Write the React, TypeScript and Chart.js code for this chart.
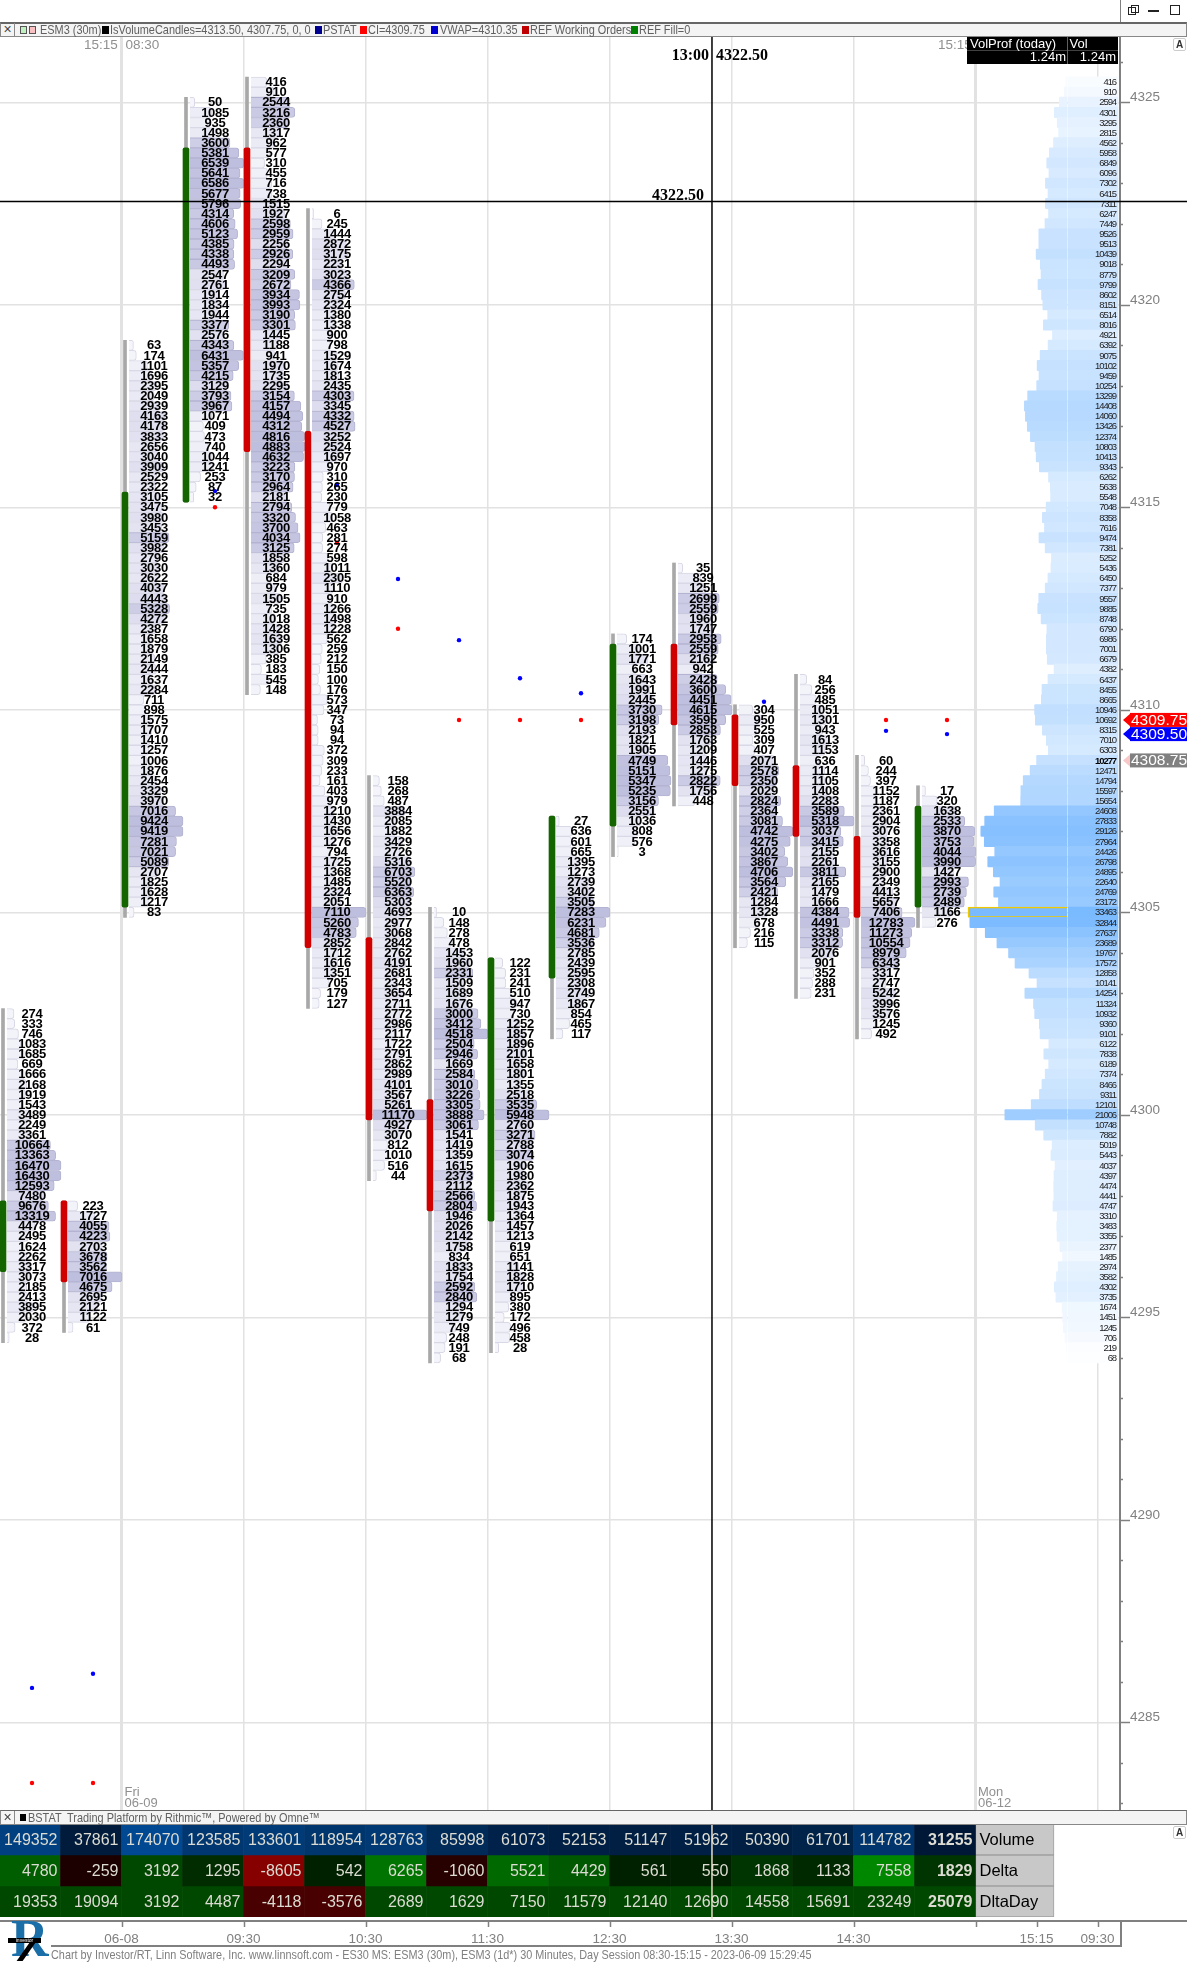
import React, { useEffect, useRef } from "react";
import { Chart, registerables } from "chart.js";

Chart.register(...registerables);

const volumes0 = [274,333,746,1083,1685,669,1666,2168,1919,1543,3489,2249,3361,10664,13363,16470,16430,12593,7480,9676,13319,4478,2495,1624,2262,3317,3073,2185,2413,3895,2030,372,28];
const volumes1 = [223,1727,4055,4223,2703,3678,3562,7016,4675,2695,2121,1122,61];
const volumes2 = [63,174,1101,1696,2395,2049,2939,4163,4178,3833,2656,3040,3909,2529,2322,3105,3475,3980,3453,5159,3982,2796,3030,2622,4037,4443,5328,4272,2387,1658,1879,2149,2444,1637,2284,711,898,1575,1707,1410,1257,1006,1876,2454,3329,3970,7016,9424,9419,7281,7021,5089,2707,1825,1628,1217,83];
const volumes3 = [50,1085,935,1498,3600,5381,6539,5641,6586,5677,5796,4314,4606,5123,4385,4338,4493,2547,2761,1914,1834,1944,3377,2576,4343,6431,5357,4215,3129,3793,3967,1071,409,473,740,1044,1241,253,87,32];
const volumes4 = [416,910,2544,3216,2360,1317,962,577,310,455,716,738,1515,1927,2598,2959,2256,2926,2294,3209,2672,3934,3993,3190,3301,1445,1188,941,1970,1735,2295,3154,4157,4494,4312,4816,4883,4632,3223,3170,2964,2181,2794,3320,3700,4034,3125,1858,1360,684,979,1505,735,1018,1428,1639,1306,385,183,545,148];
const volumes5 = [6,245,1444,2872,3175,2231,3023,4366,2754,2324,1380,1338,900,798,1529,1674,1813,2435,4303,3345,4332,4527,3252,2524,1697,970,310,265,230,779,1058,463,281,274,598,1011,2305,1110,910,1266,1498,1228,562,259,212,150,100,176,573,347,73,94,94,372,309,233,161,403,979,1210,1430,1656,1276,794,1725,1368,1485,2324,2051,7110,5260,4783,2852,1712,1616,1351,705,179,127];
const volumes6 = [158,268,487,3884,2085,1882,3429,2726,5316,6703,5520,6363,5303,4693,2977,3068,2842,2762,4191,2681,2343,3654,2711,2772,2986,2117,1722,2791,2862,2989,4101,3567,5261,11170,4927,3070,812,1010,516,44];
const volumes7 = [10,148,278,478,1453,1960,2331,1509,1689,1676,3000,3412,4518,2504,2946,1669,2584,3010,3226,3305,3888,3061,1541,1419,1359,1615,2373,2112,2566,2804,1946,2026,2142,1758,834,1833,1754,2592,2840,1294,1279,749,248,191,68];
const volumes8 = [122,231,241,510,947,730,1252,1857,1896,2101,1658,1801,1355,2518,3535,5948,2760,3271,2788,3074,1906,1980,2362,1875,1943,1364,1457,1213,619,651,1141,1828,1710,895,380,172,496,458,28];
const volumes9 = [27,636,601,665,1395,1273,2739,3402,3505,7283,6231,4681,3536,2785,2439,2595,2308,2749,1867,854,465,117];
const volumes10 = [174,1001,1771,663,1643,1991,2445,3730,3198,2193,1821,1905,4749,5151,5347,5235,3156,2551,1036,808,576,3];
const volumes11 = [35,839,1251,2699,2559,1960,1747,2953,2559,2162,942,2428,3600,4451,4615,3595,2853,1763,1209,1446,1275,2822,1756,448];
const volumes12 = [304,950,525,309,407,2071,2578,2350,2029,2824,2364,3081,4742,4275,3402,3867,4706,3564,2421,1284,1328,678,216,115];
const volumes13 = [84,256,485,1051,1301,943,1613,1153,636,1114,1105,1408,2283,3589,5318,3037,3415,2155,2261,3811,2165,1479,1666,4384,4491,3338,3312,2076,901,352,288,231];
const volumes14 = [60,244,397,1152,1187,2361,2904,3076,3358,3616,3155,2900,2349,4413,5657,7406,12783,11273,10554,8979,6343,3317,2747,5242,3996,3576,1245,492];
const volumes15 = [17,320,1638,2533,3870,3753,4044,3990,1427,2993,2739,2489,1166,276];
const footprints = [volumes0,volumes1,volumes2,volumes3,volumes4,volumes5,volumes6,volumes7,volumes8,volumes9,volumes10,volumes11,volumes12,volumes13,volumes14,volumes15];

const topPrices = [4302.5,4297.75,4319,4325,4325.5,4322.25,4308.25,4305,4303.75,4307.25,4311.75,4313.5,4310,4310.75,4308.75,4308];
const bodyTops = [4297.875,4297.875,4315.375,4323.875,4323.875,4316.875,4304.375,4300.375,4303.875,4307.375,4311.625,4311.625,4309.875,4308.625,4306.875,4307.625];
const bodyBottoms = [4296.125,4295.875,4305.125,4315.125,4316.375,4304.125,4299.875,4297.625,4297.375,4303.375,4307.125,4309.625,4308.125,4306.875,4304.875,4305.125];
const bodyUp = [true,false,true,true,false,false,false,false,true,true,true,false,false,false,false,true];
const blueDots = [4285.85,4286.2,null,4315.4,null,4315.55,4313.23,4311.72,4310.78,4310.41,null,null,4310.2,null,4309.48,4309.4];
const redDots = [4283.5,4283.5,null,4315,null,4314.125,4312,4309.75,4309.75,4309.75,null,null,null,null,4309.75,4309.75];

const profileTop = 4325.5;
const profileVolumes = [416,910,2594,4301,3295,2815,4562,5958,6849,6096,7302,6415,7311,6247,7449,9526,9513,10439,9018,8779,9799,8602,8151,6514,8016,4921,6392,9075,10102,9459,10254,13299,14408,14060,13426,12374,10803,10413,9343,6262,5638,5548,7048,8358,7616,9474,7381,5252,5436,6450,7377,9557,9885,8748,6790,6986,7001,6679,4382,6437,8455,8665,10946,10692,8315,7010,6303,10277,12471,14794,15597,15654,24608,27833,29126,27964,24426,26798,24895,22640,24769,23172,33463,32844,27637,23689,19767,17572,12858,10141,14254,11324,10932,9360,9101,6122,7838,6189,7374,8466,9311,12101,21006,10748,7882,5019,5443,4037,4397,4474,4441,4747,3310,3483,3355,2377,1485,2974,3582,4302,3735,1674,1451,1245,706,219,68];
const lastPrice = 4308.75;

const metricLabels = ["Volume", "Delta", "DltaDay"];
const volumeRow = [149352,37861,174070,123585,133601,118954,128763,85998,61073,52153,51147,51962,50390,61701,114782,31255];
const deltaRow = [4780,-259,3192,1295,-8605,542,6265,-1060,5521,4429,561,550,1868,1133,7558,1829];
const dltaDayRow = [19353,19094,3192,4487,-4118,-3576,2689,1629,7150,11579,12140,12690,14558,15691,23249,25079];

const axisTimeSlots = [2,4,6,8,10,12,14,16,17,18];
const axisTimeLabels = ["06-08","09:30","10:30","11:30","12:30","13:30","14:30","","15:15","09:30"];

const crossPrice = 4322.55;
const crossPriceLabel = "4322.50";
const crossTimeLabel = "13:00";
const crossSlot = 11.68;
const tagRed = { price: 4309.75, label: "4309.75", bg: "#ff0000", arrow: "#ff0000" };
const tagBlue = { price: 4309.4, label: "4309.50", bg: "#0000ff", arrow: "#0000ff" };
const tagLast = { price: 4308.75, label: "4308.75", bg: "#808080", arrow: "#f8c8c8" };

const SLOT = 61;
const W = 1187;
const AXIS_X = 1120;
const toSlot = (px: number) => (px + 0.5) / SLOT;
const OFF_CANDLE = 3.5 / SLOT;
const OFF_BASE = 7.5 / SLOT;
const OFF_LABEL = 32.5 / SLOT;
const BAR_MAX = 54 / SLOT;
const X_MIN = toSlot(0);
const X_MAX = toSlot(AXIS_X);
const PX_PER_POINT = 40.5;
const Y_MAX = 4325 + (102.3 - 37) / PX_PER_POINT;
const Y_MIN = 4325 - (1810 - 102.3) / PX_PER_POINT;
const TICK = 0.25;
const DARK_FROM = 0.48;

const lerp = (a: number, b: number, t: number) => Math.round(a + (b - a) * t);
const fpColor = (t: number) => {
  if (t < DARK_FROM) {
    const p = t / DARK_FROM;
    return `rgb(${lerp(245, 221, p)},${lerp(245, 221, p)},${lerp(251, 239, p)})`;
  }
  const p = (t - DARK_FROM) / (1 - DARK_FROM);
  return `rgb(${lerp(208, 190, p)},${lerp(208, 190, p)},${lerp(232, 222, p)})`;
};
const profColor = (t: number) => {
  const p = Math.pow(t, 0.7);
  return `rgb(${lerp(255, 122, p)},${lerp(255, 186, p)},255)`;
};

const mainPlugin = {
  id: "footprintText",
  afterDatasetsDraw(chart: any) {
    const { ctx, scales } = chart;
    const x = scales.x;
    const y = scales.y;
    ctx.save();
    ctx.textBaseline = "middle";
    ctx.textAlign = "center";
    ctx.fillStyle = "#000";
    ctx.font = 'bold 13px "Liberation Sans"';
    (ctx as any).letterSpacing = "-0.3px";
    footprints.forEach((col, k) => {
      const px = x.getPixelForValue(k + OFF_LABEL);
      col.forEach((v, i) => {
        ctx.fillText(String(v), px, y.getPixelForValue(topPrices[k] - i * TICK) + 0.5);
      });
    });
    ctx.textAlign = "right";
    (ctx as any).letterSpacing = "-1.1px";
    const profX = x.getPixelForValue(toSlot(1116));
    profileVolumes.forEach((v, i) => {
      const p = profileTop - i * TICK;
      ctx.font = (p === lastPrice ? "bold " : "") + '9.5px "Liberation Sans"';
      ctx.fillStyle = p === lastPrice ? "#000" : "#222";
      ctx.fillText(String(v), profX, y.getPixelForValue(p) + 0.5);
    });
    (ctx as any).letterSpacing = "0px";

    ctx.strokeStyle = "#808080";
    ctx.lineWidth = 1.5;
    y.ticks.forEach((t: any) => {
      const py = Math.round(y.getPixelForValue(t.value)) + 0.5;
      ctx.beginPath();
      ctx.moveTo(AXIS_X, py);
      ctx.lineTo(AXIS_X + (t.value % 5 === 0 ? 10 : 3), py);
      ctx.stroke();
    });

    const crossY = y.getPixelForValue(crossPrice);
    const crossX = x.getPixelForValue(crossSlot);
    ctx.strokeStyle = "#000";
    ctx.lineWidth = 1.5;
    ctx.beginPath();
    ctx.moveTo(0, crossY);
    ctx.lineTo(W, crossY);
    ctx.moveTo(crossX, 0);
    ctx.lineTo(crossX, chart.chartArea.bottom);
    ctx.stroke();

    ctx.fillStyle = "#000";
    ctx.font = 'bold 16px "Liberation Serif"';
    ctx.textAlign = "right";
    ctx.fillText(crossPriceLabel, crossX - 8, crossY - 6);
    ctx.fillText(crossTimeLabel, crossX - 3, 19);
    ctx.textAlign = "left";
    ctx.fillText(crossPriceLabel, crossX + 4, 19);

    [tagRed, tagBlue, tagLast].forEach((tag) => {
      const py = y.getPixelForValue(tag.price);
      const left = AXIS_X + 10;
      ctx.fillStyle = tag.arrow;
      ctx.beginPath();
      ctx.moveTo(AXIS_X + 3, py);
      ctx.lineTo(left + 1, py - 7);
      ctx.lineTo(left + 1, py + 7);
      ctx.closePath();
      ctx.fill();
      ctx.fillStyle = tag.bg;
      ctx.fillRect(left, py - 7, W - left, 14);
      ctx.fillStyle = "#fff";
      ctx.font = '15.5px "Liberation Sans"';
      ctx.textAlign = "left";
      ctx.fillText(tag.label, left + 1, py + 0.5);
    });
    ctx.restore();
  },
};

const tablePlugin = {
  id: "tableText",
  afterDatasetsDraw(chart: any) {
    const { ctx, scales } = chart;
    const x = scales.x;
    const y = scales.y;
    ctx.save();
    ctx.textBaseline = "middle";
    [volumeRow, deltaRow, dltaDayRow].forEach((row, r) => {
      const py = y.getPixelForValue(r);
      row.forEach((v, k) => {
        ctx.textAlign = "right";
        ctx.fillStyle = "#dcdcd2";
        ctx.font = (k === 15 ? "bold " : "") + '16px "Liberation Sans"';
        ctx.fillText(String(v), x.getPixelForValue(k + 1) - 3, py + 1);
      });
      ctx.textAlign = "left";
      ctx.fillStyle = "#000";
      ctx.font = '16.5px "Liberation Sans"';
      ctx.fillText(metricLabels[r], x.getPixelForValue(16) + 4, py + 1);
    });
    const crossX = x.getPixelForValue(crossSlot);
    ctx.strokeStyle = "#e8dcc8";
    ctx.lineWidth = 1.5;
    ctx.beginPath();
    ctx.moveTo(crossX, 0);
    ctx.lineTo(crossX, chart.chartArea.bottom + 2);
    ctx.stroke();
    ctx.strokeStyle = "#808080";
    ctx.lineWidth = 1.5;
    axisTimeSlots.forEach((s) => {
      const px = x.getPixelForValue(s) + 1;
      ctx.beginPath();
      ctx.moveTo(px, chart.chartArea.bottom + 4);
      ctx.lineTo(px, chart.chartArea.bottom + 10);
      ctx.stroke();
    });
    ctx.restore();
  },
};

const barCommon = { type: "bar", grouped: false, borderSkipped: false };

function buildMainDatasets() {
  const ds: any[] = [];
  footprints.forEach((col, k) => {
    const max = Math.max(...col);
    ds.push({
      ...barCommon,
      indexAxis: "y",
      order: 5,
      barThickness: 10.1,
      borderWidth: 1,
      borderSkipped: "left",
      borderRadius: 3,
      borderColor: col.map((v) => (v / max >= DARK_FROM ? "#b4b4d2" : "#d8d8e6")),
      backgroundColor: col.map((v) => fpColor(v / max)),
      data: col.map((v, i) => ({
        x: [k + OFF_BASE, k + OFF_BASE + Math.sqrt(v / max) * BAR_MAX],
        y: topPrices[k] - i * TICK,
      })),
    });
    ds.push({
      ...barCommon,
      order: 4,
      barThickness: 3,
      backgroundColor: "#a8a8a8",
      data: [{ x: k + OFF_CANDLE, y: [topPrices[k] - (col.length - 1) * TICK - TICK / 2, topPrices[k] + TICK / 2] }],
    });
    ds.push({
      ...barCommon,
      order: 3,
      barThickness: 6,
      borderRadius: 2,
      backgroundColor: bodyUp[k] ? "#146400" : "#d00000",
      data: [{ x: k + OFF_CANDLE, y: [bodyBottoms[k], bodyTops[k]] }],
    });
  });
  const profMax = Math.max(...profileVolumes);
  ds.push({
    ...barCommon,
    indexAxis: "y",
    order: 6,
    barThickness: 10.4,
    borderSkipped: "right",
    borderRadius: 1,
    borderColor: profileVolumes.map((v) => (v === profMax ? "#f0c800" : "rgba(0,0,0,0)")),
    borderWidth: profileVolumes.map((v) => (v === profMax ? 1.5 : 0)),
    backgroundColor: profileVolumes.map((v) => profColor(v / profMax)),
    data: profileVolumes.map((v, i) => ({
      x: [toSlot(1067 - (v / profMax) * 99), toSlot(1067)],
      y: profileTop - i * TICK,
    })),
  });
  ds.push({
    ...barCommon,
    indexAxis: "y",
    order: 6,
    barThickness: 10.4,
    backgroundColor: profileVolumes.map((v) => profColor(v / profMax)),
    data: profileVolumes.map((v, i) => ({
      x: [toSlot(1068), toSlot(1118)],
      y: profileTop - i * TICK,
    })),
  });
  const dots = (arr: (number | null)[], color: string) => ({
    type: "scatter",
    order: 1,
    pointRadius: 2.2,
    pointBorderWidth: 0,
    pointBackgroundColor: color,
    showLine: false,
    data: arr
      .map((p, k) => (p === null ? null : { x: k + OFF_LABEL, y: p }))
      .filter((d) => d !== null),
  });
  ds.push(dots(blueDots, "#0000ff"));
  ds.push(dots(redDots, "#ff0000"));
  return ds;
}

const cellVolume = (v: number) => {
  const t = v / Math.max(...volumeRow);
  return `rgb(0,${lerp(14, 72, t)},${lerp(35, 145, t)})`;
};
const cellDelta = (v: number) => {
  const t = Math.min(1, Math.abs(v) / 8605);
  return v >= 0 ? `rgb(0,${lerp(25, 150, t)},0)` : `rgb(${lerp(25, 135, t)},0,0)`;
};
const cellDay = (v: number) => (v >= 0 ? "rgb(0,72,0)" : "rgb(72,0,0)");

function buildTableDatasets() {
  const rows = [volumeRow, deltaRow, dltaDayRow];
  const colors = [cellVolume, cellDelta, cellDay];
  const ds: any[] = rows.map((row, r) => ({
    type: "bar",
    grouped: false,
    barPercentage: 1,
    categoryPercentage: 1,
    borderWidth: 0,
    backgroundColor: row.map((v) => colors[r](v)),
    data: row.map((_, k) => ({ x: [k, k + 1], y: metricLabels[r] })),
  }));
  ds.push({
    type: "bar",
    grouped: false,
    barPercentage: 1,
    categoryPercentage: 1,
    borderWidth: 1,
    borderColor: "#a0a0a0",
    borderSkipped: false,
    backgroundColor: "#c8c8c8",
    data: metricLabels.map((m) => ({ x: [16, toSlot(1054)], y: m })),
  });
  return ds;
}

function MainChart() {
  const ref = useRef<HTMLCanvasElement>(null);
  useEffect(() => {
    const chart = new Chart(ref.current as any, {
      type: "scatter",
      data: { datasets: buildMainDatasets() },
      plugins: [mainPlugin],
      options: {
        responsive: false,
        animation: false,
        devicePixelRatio: 1,
        events: [],
        layout: { autoPadding: false, padding: 0 },
        plugins: { legend: { display: false }, tooltip: { enabled: false } },
        scales: {
          x: {
            type: "linear",
            position: "bottom",
            min: X_MIN,
            max: X_MAX,
            offset: false,
            beginAtZero: false,
            afterBuildTicks: (s: any) => {
              s.ticks = [2, 4, 6, 8, 10, 12, 14, 16, 18].map((value) => ({ value }));
            },
            afterFit: (s: any) => {
              s.height = 0;
              s.paddingLeft = 0;
              s.paddingRight = 0;
            },
            ticks: { display: false, autoSkip: false },
            border: { display: false },
            grid: {
              offset: false,
              drawTicks: false,
              color: "#e2e2e2",
              lineWidth: (c: any) => (c.tick && (c.tick.value === 2 || c.tick.value === 16) ? 3 : 1.5),
            },
          },
          y: {
            type: "linear",
            position: "right",
            min: Y_MIN,
            max: Y_MAX,
            offset: false,
            beginAtZero: false,
            afterBuildTicks: (s: any) => {
              const t: any[] = [];
              for (let v = 4283; v <= 4326; v++) t.push({ value: v });
              s.ticks = t;
            },
            afterFit: (s: any) => {
              s.width = W - AXIS_X;
              s.paddingTop = 0;
              s.paddingBottom = 0;
            },
            border: { display: true, color: "#808080", width: 2 },
            grid: {
              offset: false,
              tickLength: 10,
              tickColor: "rgba(0,0,0,0)",
              color: (c: any) => (c.tick && c.tick.value % 5 === 0 ? "#e2e2e2" : "rgba(0,0,0,0)"),
              lineWidth: (c: any) => (c.tick && c.tick.value % 5 === 0 ? 1.5 : 0),
            },
            ticks: {
              autoSkip: false,
              padding: 0,
              labelOffset: -5,
              color: "#808080",
              font: { family: "Liberation Sans", size: 13.5 },
              callback: (v: any) => (v % 5 === 0 ? String(v) : ""),
            },
          },
        },
      } as any,
    } as any);
    return () => chart.destroy();
  }, []);
  return (
    <canvas
      ref={ref}
      width={W}
      height={1773}
      style={{ position: "absolute", left: 0, top: 37, width: W, height: 1773 }}
    />
  );
}

function TableChart() {
  const ref = useRef<HTMLCanvasElement>(null);
  useEffect(() => {
    const chart = new Chart(ref.current as any, {
      type: "bar",
      data: { labels: metricLabels, datasets: buildTableDatasets() },
      plugins: [tablePlugin],
      options: {
        indexAxis: "y",
        responsive: false,
        animation: false,
        devicePixelRatio: 1,
        events: [],
        layout: { autoPadding: false, padding: { right: W - AXIS_X, left: 0, top: 0, bottom: 0 } },
        plugins: { legend: { display: false }, tooltip: { enabled: false } },
        scales: {
          y: { type: "category", display: false, offset: true, labels: metricLabels },
          x: {
            type: "linear",
            position: "bottom",
            min: X_MIN,
            max: X_MAX,
            beginAtZero: false,
            afterBuildTicks: (s: any) => {
              s.ticks = axisTimeSlots.map((value) => ({ value }));
            },
            afterFit: (s: any) => {
              s.height = 29;
            },
            border: { display: false },
            grid: { drawOnChartArea: false, tickLength: 14, tickColor: "rgba(0,0,0,0)" },
            ticks: {
              autoSkip: false,
              maxRotation: 0,
              padding: 0,
              color: "#808080",
              font: { family: "Liberation Sans", size: 13.5 },
              callback: (v: any) => {
                const i = axisTimeSlots.indexOf(v);
                return i >= 0 ? axisTimeLabels[i] : "";
              },
            },
          },
        },
      } as any,
    } as any);
    return () => chart.destroy();
  }, []);
  return (
    <canvas
      ref={ref}
      width={W}
      height={122}
      style={{ position: "absolute", left: 0, top: 1824, width: W, height: 122 }}
    />
  );
}

const sans = '"Liberation Sans"';

function T(p: { x: number; y: number; s?: number; c?: string; b?: boolean; r?: boolean; z?: number; sx?: number; children: React.ReactNode }) {
  const lh = 16;
  const style: React.CSSProperties = {
    position: "absolute",
    top: p.y - lh / 2,
    lineHeight: `${lh}px`,
    fontFamily: sans,
    fontSize: p.s ?? 13,
    color: p.c ?? "#606060",
    fontWeight: p.b ? 700 : 400,
    whiteSpace: "nowrap",
    zIndex: p.z ?? 3,
  };
  if (p.sx) {
    style.transform = `scaleX(${p.sx})`;
    style.transformOrigin = "left center";
  }
  if (p.r) style.right = W - p.x;
  else style.left = p.x;
  return <div style={style}>{p.children}</div>;
}

function Box(p: { x: number; y: number; w: number; h: number; c?: string; b?: string; z?: number; style?: React.CSSProperties }) {
  return (
    <div
      style={{
        position: "absolute",
        left: p.x,
        top: p.y,
        width: p.w,
        height: p.h,
        boxSizing: "border-box",
        background: p.c,
        border: p.b,
        zIndex: p.z ?? 2,
        ...p.style,
      }}
    />
  );
}

const titleSquares: [number, string][] = [
  [102, "#000000"],
  [315, "#000090"],
  [360, "#ff0000"],
  [431, "#0000d0"],
  [522, "#c00000"],
  [631, "#008000"],
];
const titleTexts: [number, string][] = [
  [40, "ESM3 (30m)"],
  [110, "IsVolumeCandles=4313.50, 4307.75, 0, 0"],
  [323, "PSTAT"],
  [368, "CI=4309.75"],
  [440, "VWAP=4310.35"],
  [530, "REF Working Orders"],
  [639, "REF Fill=0"],
];

function CloseBox({ y }: { y: number }) {
  return (
    <div
      style={{
        position: "absolute",
        left: 1,
        top: y,
        width: 14,
        height: 14,
        zIndex: 3,
        borderRight: "1px solid #888",
        boxSizing: "border-box",
        color: "#444",
        fontFamily: sans,
        fontSize: 14,
        lineHeight: "13px",
        textAlign: "center",
      }}
    >
      ×
    </div>
  );
}

export default function App() {
  return (
    <div
      style={{
        position: "absolute",
        left: 0,
        top: 0,
        width: W,
        height: 1962,
        overflow: "hidden",
        background: "#fff",
      }}
    >
      <MainChart />
      <TableChart />

      {/* window controls */}
      <Box x={AXIS_X} y={0} w={1} h={22} c="#808080" />
      <Box x={1128} y={7} w={8} h={8} b="1.5px solid #222" />
      <Box x={1131} y={5} w={8} h={8} b="1.5px solid #222" z={1} />
      <Box x={1148} y={10} w={11} h={1.5} c="#222" />
      <Box x={1170} y={5} w={10} h={10} b="1.5px solid #222" />

      {/* title strip */}
      <Box x={0} y={22} w={W} h={15} c="#f4f4f4" b="1px solid #888" style={{ borderTop: "2px solid #666" }} />
      <CloseBox y={23} />
      <Box x={20} y={26} w={7} h={8} c="#c0f0c0" b="1px solid #555" z={3} />
      <Box x={29} y={26} w={7} h={8} c="#f8c0c0" b="1px solid #555" z={3} />
      {titleSquares.map(([x, c]) => (
        <Box key={x} x={x} y={26} w={7} h={8} c={c} z={3} />
      ))}
      {titleTexts.map(([x, t]) => (
        <T key={x} x={x} y={30} s={13} sx={0.84}>
          {t}
        </T>
      ))}

      {/* main chart labels */}
      <T x={84} y={44.5} s={13.5} c="#909090">15:15</T>
      <T x={125.5} y={44.5} s={13.5} c="#909090">08:30</T>
      <T x={938} y={44.5} s={13.5} c="#909090" z={2}>15:15</T>
      <T x={124.5} y={1792} s={13} c="#909090">Fri</T>
      <T x={124.5} y={1803} s={13} c="#909090">06-09</T>
      <T x={978} y={1792} s={13} c="#909090">Mon</T>
      <T x={978} y={1803} s={13} c="#909090">06-12</T>

      {/* VolProf header */}
      <Box x={967} y={37} w={151} h={26.5} c="#000" z={3} />
      <Box x={967} y={50} w={151} h={1} c="#404040" z={4} />
      <Box x={1067} y={37} w={1} h={26.5} c="#606060" z={4} />
      <T x={970} y={44} s={13} c="#fff" z={5}>VolProf (today)</T>
      <T x={1069.5} y={44} s={13} c="#fff" z={5}>Vol</T>
      <T x={1066} y={57} s={13} c="#fff" r z={5}>1.24m</T>
      <T x={1116} y={57} s={13} c="#fff" r z={5}>1.24m</T>

      {/* A buttons */}
      <div style={{ position: "absolute", left: 1173, top: 38, width: 13, height: 13, border: "1px solid #ccc", borderRadius: 2, boxSizing: "border-box", fontFamily: sans, fontSize: 10, fontWeight: 700, textAlign: "center", lineHeight: "11px", color: "#333", zIndex: 3 }}>A</div>
      <div style={{ position: "absolute", left: 1173, top: 1826, width: 13, height: 13, border: "1px solid #ccc", borderRadius: 2, boxSizing: "border-box", fontFamily: sans, fontSize: 10, fontWeight: 700, textAlign: "center", lineHeight: "11px", color: "#333", zIndex: 3 }}>A</div>

      {/* BSTAT strip */}
      <Box x={0} y={1810} w={W} h={14.5} c="#f4f4f4" b="1px solid #888" style={{ borderTop: "1.5px solid #666" }} />
      <CloseBox y={1811} />
      <Box x={20} y={1814} w={6} h={7} c="#000" z={3} />
      <T x={28} y={1818} s={13} sx={0.84}>BSTAT</T>
      <T x={67} y={1818} s={13} sx={0.84}>Trading Platform by Rithmic™, Powered by Omne™</T>

      {/* bottom axis frame */}
      <Box x={0} y={1920} w={W} h={1.5} c="#808080" />
      <Box x={51} y={1945} w={AXIS_X - 51} h={1.5} c="#808080" />
      <Box x={AXIS_X} y={1920} w={1.5} h={26.5} c="#808080" />

      {/* footer */}
      <T x={51} y={1955} s={13} sx={0.835} c="#808080">
        Chart by Investor/RT, Linn Software, Inc. www.linnsoft.com - ES30 MS: ESM3 (30m), ESM3 (1d*) 30 Minutes, Day Session 08:30-15:15 - 2023-06-09 15:29:45
      </T>

      {/* logo */}
      <div style={{ position: "absolute", left: 11, top: 1913, fontFamily: '"Liberation Serif"', fontWeight: 700, fontSize: 52, lineHeight: "52px", color: "#1b6fa8", zIndex: 3 }}>R</div>
      <Box x={24} y={1940} w={6} h={21} c="#000" z={4} style={{ transform: "skewX(-35deg)" }} />
      <div style={{ position: "absolute", left: 8, top: 1938, width: 33, height: 5, background: "#000", color: "#fff", fontFamily: sans, fontSize: 5, lineHeight: "5px", textAlign: "center", zIndex: 5 }}>investor</div>
    </div>
  );
}
